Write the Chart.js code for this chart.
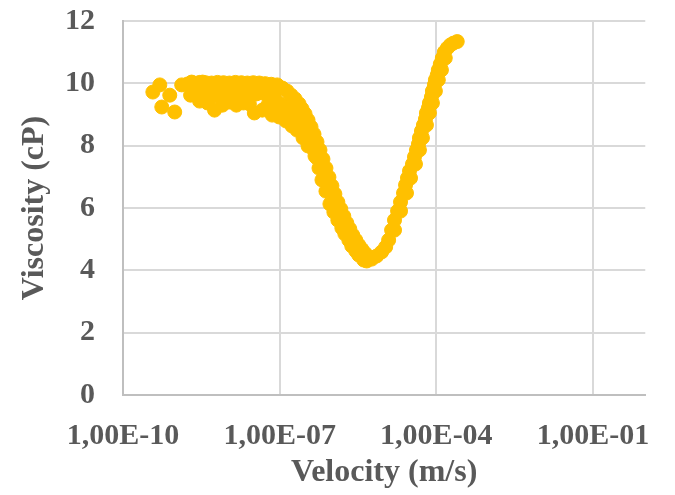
<!DOCTYPE html>
<html>
<head>
<meta charset="utf-8">
<title>Viscosity vs velocity</title>
<script src="https://cdn.jsdelivr.net/npm/chart.js@4.4.1/dist/chart.umd.min.js"></script>
<style>
    html, body { margin: 0; padding: 0; background: #ffffff; }
    canvas { display: block; }
</style>
</head>
<body>
<canvas id="viscosityChart" width="675" height="495"></canvas>
<script>
// low-velocity plateau (scattered points around 10 cP)
const plateauVelocity = [
    3.73e-10, 5.07e-10, 5.53e-10, 7.86e-10, 9.78e-10, 1.33e-9, 2.06e-9, 3.34e-9, 5.66e-9, 8.03e-9, 1.48e-8, 3.27e-8, 4.64e-8, 7.20e-8,
    1.73e-9, 2.25e-9, 2.93e-9, 3.81e-9, 4.96e-9, 6.45e-9, 8.40e-9, 1.09e-8, 1.42e-8, 1.85e-8, 2.40e-8, 3.13e-8, 4.07e-8, 5.29e-8, 6.89e-8,
    1.97e-9, 2.57e-9, 3.34e-9, 4.35e-9, 5.66e-9, 7.36e-9, 9.57e-9, 1.25e-8, 1.62e-8, 2.11e-8, 2.74e-8, 3.57e-8, 4.64e-8, 6.04e-8, 7.86e-8,
    2.93e-9, 4.16e-9, 1.09e-8, 2.02e-8, 2.63e-8, 5.78e-8, 9.78e-8
];
const plateauViscosity = [
    9.72, 9.95, 9.24, 9.62, 9.08, 9.95, 10.04, 10.04, 9.14, 9.30, 9.30, 9.05, 9.14, 8.98,
    9.98, 10.01, 10.03, 10.02, 10.01, 10.03, 10.02, 10.01, 10.03, 10.02, 10.01, 10.02, 10.01, 9.99, 9.97,
    9.62, 9.70, 9.66, 9.72, 9.60, 9.68, 9.73, 9.65, 9.70, 9.62, 9.71, 9.66, 9.69, 9.58, 9.55,
    9.43, 9.37, 9.40, 9.37, 9.34, 9.27, 9.21
];

// shear-thinning drop down to the minimum
const fallVelocity = [
    8.96e-8, 1.12e-7, 1.39e-7, 1.66e-7, 1.97e-7, 2.35e-7, 2.68e-7, 3.06e-7, 3.49e-7, 3.98e-7, 4.54e-7, 5.18e-7, 5.91e-7, 6.74e-7, 7.69e-7,
    8.77e-7, 1.00e-6, 1.14e-6, 1.30e-6, 1.48e-6, 1.69e-6, 1.93e-6, 2.20e-6, 2.51e-6, 2.87e-6, 3.27e-6, 3.73e-6, 4.25e-6, 4.85e-6,
    8.21e-8, 1.07e-7, 1.39e-7, 1.73e-7, 2.15e-7, 2.68e-7, 3.20e-7, 3.81e-7, 4.54e-7, 5.18e-7,
    7.52e-8, 9.78e-8, 1.33e-7, 1.73e-7, 2.15e-7, 2.80e-7, 3.49e-7, 4.74e-7, 5.66e-7, 6.45e-7, 7.69e-7,
    9.16e-7, 1.09e-6, 1.30e-6, 1.55e-6, 1.77e-6, 2.11e-6, 2.40e-6, 2.87e-6, 3.27e-6, 4.07e-6
];
const fallViscosity = [
    9.95, 9.85, 9.75, 9.62, 9.50, 9.34, 9.18, 9.02, 8.82, 8.60, 8.37, 8.12, 7.86, 7.57, 7.28,
    6.99, 6.71, 6.45, 6.19, 5.97, 5.74, 5.52, 5.33, 5.13, 4.97, 4.81, 4.68, 4.56, 4.46,
    9.46, 9.34, 9.21, 9.05, 8.85, 8.63, 8.41, 8.15, 7.86, 7.60,
    9.08, 8.92, 8.79, 8.63, 8.50, 8.25, 7.99, 7.67, 7.28, 6.90, 6.54,
    6.13, 5.87, 5.61, 5.36, 5.17, 4.97, 4.78, 4.62, 4.49, 4.33
];

// minimum and shear-thickening rise
const riseVelocity = [
    4.64e-6, 5.78e-6, 7.20e-6, 8.96e-6, 1.07e-5,
    1.22e-5, 1.39e-5, 1.58e-5, 1.81e-5, 2.06e-5, 2.35e-5, 2.57e-5, 2.80e-5, 3.06e-5, 3.49e-5, 3.81e-5,
    4.16e-5, 4.54e-5, 4.74e-5, 5.18e-5, 5.66e-5, 6.18e-5, 6.45e-5, 7.04e-5, 7.36e-5, 8.03e-5, 8.40e-5,
    9.16e-5, 9.57e-5, 1.04e-4, 1.09e-4, 1.19e-4, 1.30e-4, 1.42e-4, 1.62e-4, 1.85e-4, 2.11e-4, 2.51e-4,
    1.58e-5, 2.06e-5, 2.68e-5, 3.20e-5, 3.98e-5, 4.74e-5, 5.41e-5, 6.45e-5, 7.36e-5, 8.40e-5,
    9.57e-5, 1.09e-4, 1.25e-4, 1.48e-4
];
const riseViscosity = [
    4.30, 4.36, 4.46, 4.59, 4.75,
    4.97, 5.29, 5.61, 5.90, 6.19, 6.48, 6.74, 6.96, 7.19, 7.41, 7.64,
    7.86, 8.05, 8.25, 8.47, 8.66, 8.85, 9.05, 9.21, 9.37, 9.56, 9.75,
    9.95, 10.11, 10.27, 10.43, 10.62, 10.81, 11.00, 11.13, 11.23, 11.29, 11.34,
    5.29, 5.90, 6.48, 6.96, 7.41, 7.86, 8.25, 8.66, 9.05, 9.37,
    9.75, 10.11, 10.43, 10.81
];

const xTickValues = [1e-10, 1e-7, 1e-4, 1e-1];
const xTickLabels = ["1,00E-10", "1,00E-07", "1,00E-04", "1,00E-01"];
const yMin = 0;
const yMax = 12;
const yStep = 2;

const pointColor = "#FFC000";
const textColor = "#595959";
const fontFamily = "'Liberation Serif', 'Times New Roman', serif";

function toPoints(xs, ys) {
    return xs.map((x, i) => ({ x: x, y: ys[i] }));
}

function makeDataset(label, xs, ys) {
    return {
        label: label,
        data: toPoints(xs, ys),
        backgroundColor: pointColor,
        borderColor: pointColor,
        borderWidth: 1,
        pointRadius: 7,
        pointHoverRadius: 7
    };
}

new Chart(document.getElementById("viscosityChart"), {
    type: "scatter",
    data: {
        datasets: [
            makeDataset("Plateau", plateauVelocity, plateauViscosity),
            makeDataset("Thinning", fallVelocity, fallViscosity),
            makeDataset("Thickening", riseVelocity, riseViscosity)
        ]
    },
    options: {
        responsive: false,
        animation: false,
        layout: { padding: { top: 21, right: 27, bottom: 0, left: 0 } },
        plugins: {
            legend: { display: false },
            tooltip: { enabled: false }
        },
        scales: {
            x: {
                type: "logarithmic",
                position: "bottom",
                min: 1e-10,
                max: 1,
                afterBuildTicks: scale => {
                    scale.ticks = xTickValues.map(value => ({ value: value }));
                },
                afterFit: scale => { scale.height = 100; },
                ticks: {
                    callback: (value, index) => xTickLabels[index],
                    autoSkip: false,
                    maxRotation: 0,
                    padding: 23,
                    color: textColor,
                    font: { family: fontFamily, size: 30, weight: "bold" }
                },
                grid: { color: "#d9d9d9", lineWidth: 2, drawTicks: false },
                border: { color: "#bfbfbf", width: 2 },
                title: {
                    display: true,
                    text: "Velocity (m/s)",
                    color: textColor,
                    font: { family: fontFamily, size: 32, weight: "bold" },
                    padding: { top: 0, bottom: 3 }
                }
            },
            y: {
                min: yMin,
                max: yMax,
                afterFit: scale => {
                    // the label gap should not push the plot area down
                    scale.width = 123;
                    scale.paddingTop = 0;
                    scale.paddingBottom = 0;
                },
                ticks: {
                    stepSize: yStep,
                    padding: 28,
                    color: textColor,
                    font: { family: fontFamily, size: 30, weight: "bold" }
                },
                grid: { color: "#d9d9d9", lineWidth: 2, drawTicks: false },
                border: { color: "#bfbfbf", width: 2 },
                title: {
                    display: true,
                    text: "Viscosity (cP)",
                    color: textColor,
                    font: { family: fontFamily, size: 32, weight: "bold" },
                    padding: { top: 16, bottom: 0 }
                }
            }
        }
    }
});
</script>
</body>
</html>
